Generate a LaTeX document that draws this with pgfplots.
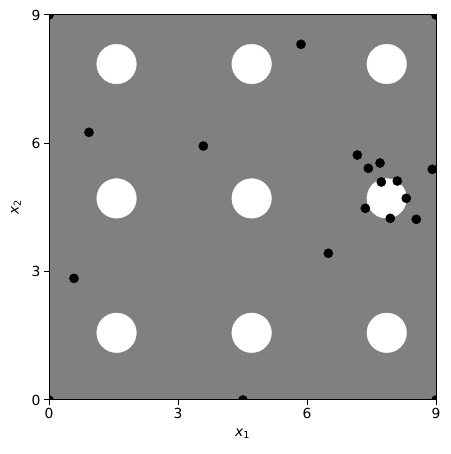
\documentclass[border=0pt]{standalone}
\usepackage{fontspec}
\setmainfont{DejaVu Sans}
\usepackage{pgfplots}
\pgfplotsset{compat=1.18}
\begin{document}
\begin{tikzpicture}
\begin{axis}[
  scale only axis,
  width=387bp, height=385bp,
  xmin=0, xmax=9, ymin=0, ymax=9,
  xtick={0,3,6,9}, ytick={0,3,6,9},
  tick align=outside,
  xtick pos=bottom, ytick pos=left,
  major tick length=5bp,
  tick style={black, line width=1bp},
  axis line style={line width=1bp},
  axis background/.style={fill=gray},
  ticklabel style={font=\fontsize{13.9}{16}\selectfont},
  label style={font=\fontsize{13.9}{16}\selectfont},
  /pgf/number format/assume math mode=true,
  xlabel={\textit{x}\textsubscript{1}},
  ylabel={\textit{x}\textsubscript{2}},
  xlabel style={yshift=-3bp},
  ylabel style={yshift=4bp},
  clip marker paths=true,
]
% white holes
\addplot[only marks, mark=*, mark size=19.8bp, draw=white, fill=white] coordinates {
  (1.5708,1.5708) (4.7124,1.5708) (7.854,1.5708)
  (1.5708,4.7124) (4.7124,4.7124) (7.854,4.7124)
  (1.5708,7.854) (4.7124,7.854) (7.854,7.854)
};
% sample points
\addplot[only marks, mark=*, mark size=4.6bp, draw=black, fill=black] coordinates {
  (0,9) (9,9) (0,0) (9,0) (4.51,0)
  (5.86,8.315) (0.93,6.257) (3.589,5.937)
  (7.17,5.727) (7.426,5.416) (7.698,5.540) (8.914,5.393)
  (7.728,5.096) (8.100,5.119) (8.309,4.715) (7.356,4.481)
  (7.937,4.247) (8.542,4.224)
  (6.496,3.429) (0.581,2.844)
};
\end{axis}
\pgfresetboundingbox
\path ([shift={(-49bp,-54bp)}]current axis.south west) rectangle ([shift={(14bp,15bp)}]current axis.north east);
\end{tikzpicture}
\end{document}
